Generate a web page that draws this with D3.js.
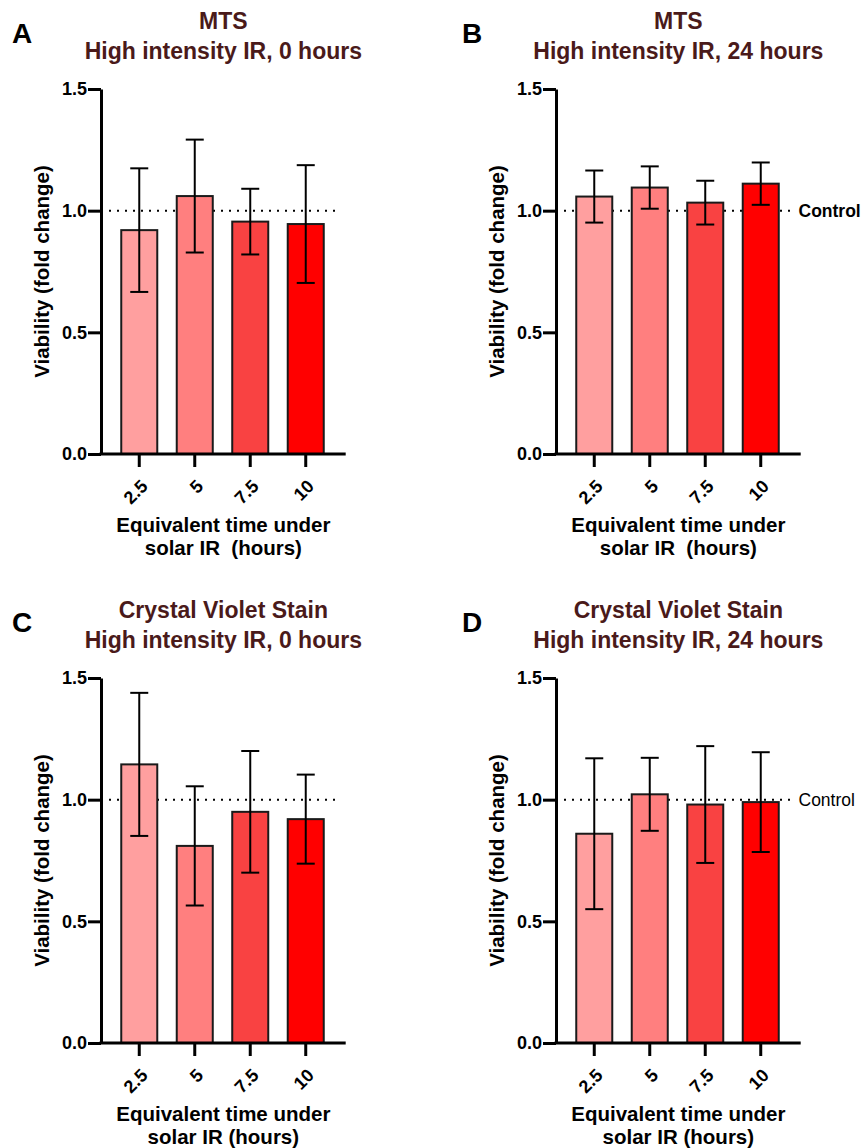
<!DOCTYPE html>
<html>
<head>
<meta charset="utf-8">
<script src="https://cdn.jsdelivr.net/npm/d3@7"></script>
<style>
  body { margin: 0; background: #fff; }
  svg { font-family: "Liberation Sans", Arial, sans-serif; }
  text { white-space: pre; }
</style>
</head>
<body>
<div id="chart"></div>
<script>
"use strict";

// x categories (equivalent hours under solar IR)
var categories = ["2.5", "5", "7.5", "10"];
var barColors = ["#ff9f9f", "#ff7f7f", "#f94242", "#ff0000"];
var yTicks = [0, 0.5, 1.0, 1.5];

// viability means and error (SD) per panel
var meansA = [0.92, 1.06, 0.955, 0.945];
var errA   = [0.254, 0.232, 0.135, 0.242];
var meansB = [1.058, 1.095, 1.033, 1.111];
var errB   = [0.107, 0.087, 0.09, 0.087];
var meansC = [1.145, 0.81, 0.95, 0.92];
var errC   = [0.294, 0.245, 0.25, 0.183];
var meansD = [0.86, 1.022, 0.98, 0.99];
var errD   = [0.31, 0.15, 0.24, 0.205];

var letters = ["A", "B", "C", "D"];
var assays = ["MTS", "MTS", "Crystal Violet Stain", "Crystal Violet Stain"];
var conditions = ["High intensity IR, 0 hours", "High intensity IR, 24 hours",
                  "High intensity IR, 0 hours", "High intensity IR, 24 hours"];
var xTitle1 = "Equivalent time under";
var xTitle2 = ["solar IR  (hours)", "solar IR  (hours)", "solar IR (hours)", "solar IR (hours)"];
var yTitle = "Viability (fold change)";
var controlLabel = [null, "bold", null, "normal"];

var width = 864, height = 1148;

var svg = d3.select("#chart")
  .append("svg")
  .attr("width", width)
  .attr("height", height);

var titleColor = "#4a1a1a";

// panel offsets and letter positions
var offsets = [[0, 0], [455, 0], [0, 589], [455, 589]];
var letterX = [12, 462, 12, 462];

var axisX = 101, axisEnd = 345.7;
var yTop = 89, yBottom = 454;

var y = d3.scaleLinear().domain([0, 1.5]).range([yBottom, yTop]);
var x = d3.scaleBand().domain(categories)
  .range([121.25, 323.75])
  .paddingInner(0.351).paddingOuter(0);

var panels = [
  {means: meansA, err: errA},
  {means: meansB, err: errB},
  {means: meansC, err: errC},
  {means: meansD, err: errD}
];

function styleTicks(sel) {
  sel.attr("font-size", 18)
    .attr("font-weight", "bold")
    .attr("font-family", "Liberation Sans, Arial, sans-serif")
    .attr("fill", "#000");
}

panels.forEach(function(p, k) {
  var ox = offsets[k][0], oy = offsets[k][1];
  var g = svg.append("g").attr("transform", "translate(" + ox + "," + oy + ")");
  var cx = (axisX + axisEnd) / 2;

  // panel letter
  svg.append("text")
    .attr("x", letterX[k])
    .attr("y", oy + 42.5)
    .attr("font-size", 28)
    .attr("font-weight", "bold")
    .attr("fill", "#000")
    .text(letters[k]);

  // titles
  g.append("text")
    .attr("x", cx).attr("y", 28.5)
    .attr("text-anchor", "middle")
    .attr("font-size", 23)
    .attr("font-weight", "bold")
    .attr("fill", titleColor)
    .text(assays[k]);
  g.append("text")
    .attr("x", cx).attr("y", 59)
    .attr("text-anchor", "middle")
    .attr("font-size", 23)
    .attr("font-weight", "bold")
    .attr("fill", titleColor)
    .text(conditions[k]);

  // control reference line
  g.append("line")
    .attr("x1", axisX + 8).attr("x2", axisX + 239)
    .attr("y1", y(1)).attr("y2", y(1))
    .attr("stroke", "#000")
    .attr("stroke-width", 2)
    .attr("stroke-dasharray", "2,6");

  if (controlLabel[k]) {
    g.append("text")
      .attr("x", axisX + 242.5)
      .attr("y", y(1))
      .attr("dy", "0.35em")
      .attr("font-size", 17.5)
      .attr("font-weight", controlLabel[k])
      .text("Control");
  }

  var data = categories.map(function(c, i) {
    return {cat: c, mean: p.means[i], err: p.err[i], color: barColors[i]};
  });

  // bars
  g.selectAll(".bar")
    .data(data)
    .enter()
    .append("rect")
    .attr("class", "bar")
    .attr("x", function(d) { return x(d.cat); })
    .attr("width", x.bandwidth())
    .attr("y", function(d) { return y(d.mean); })
    .attr("height", function(d) { return y(0) - y(d.mean); })
    .attr("fill", function(d) { return d.color; })
    .attr("stroke", "#1a1a1a")
    .attr("stroke-width", 2);

  // error bars
  var eb = g.selectAll(".err")
    .data(data)
    .enter()
    .append("g")
    .attr("class", "err")
    .attr("stroke", "#000")
    .attr("stroke-width", 2);
  eb.append("line")
    .attr("x1", function(d) { return x(d.cat) + x.bandwidth() / 2; })
    .attr("x2", function(d) { return x(d.cat) + x.bandwidth() / 2; })
    .attr("y1", function(d) { return y(d.mean - d.err); })
    .attr("y2", function(d) { return y(d.mean + d.err); });
  [-1, 1].forEach(function(s) {
    eb.append("line")
      .attr("x1", function(d) { return x(d.cat) + x.bandwidth() / 2 - 9; })
      .attr("x2", function(d) { return x(d.cat) + x.bandwidth() / 2 + 9; })
      .attr("y1", function(d) { return y(d.mean + s * d.err); })
      .attr("y2", function(d) { return y(d.mean + s * d.err); });
  });

  // y axis
  var yAxis = g.append("g")
    .attr("transform", "translate(" + axisX + ",0)")
    .call(d3.axisLeft(y).tickValues(yTicks).tickFormat(d3.format(".1f"))
      .tickSize(13).tickSizeOuter(0).tickPadding(1));
  yAxis.select(".domain").attr("stroke-width", 3);
  yAxis.selectAll(".tick line").attr("stroke-width", 3);
  yAxis.selectAll(".tick text").call(styleTicks);

  // x axis
  var xAxis = g.append("g")
    .attr("transform", "translate(0," + yBottom + ")")
    .call(d3.axisBottom(x).tickSize(13).tickSizeOuter(0));
  xAxis.select(".domain").remove();
  xAxis.append("line")
    .attr("x1", axisX - 1.5).attr("x2", axisEnd)
    .attr("stroke", "#000")
    .attr("stroke-width", 3);
  xAxis.selectAll(".tick line").attr("stroke-width", 3);
  xAxis.selectAll(".tick text").call(styleTicks)
    .attr("text-anchor", "end")
    .attr("dy", "0.35em")
    .attr("transform", "translate(5,29) rotate(-45)")
    .attr("y", 0).attr("x", 0);

  // axis titles
  g.append("text")
    .attr("x", cx).attr("y", 531.5)
    .attr("text-anchor", "middle")
    .attr("font-size", 20.5)
    .attr("font-weight", "bold")
    .text(xTitle1);
  g.append("text")
    .attr("x", cx).attr("y", 555)
    .attr("text-anchor", "middle")
    .attr("font-size", 20.5)
    .attr("font-weight", "bold")
    .text(xTitle2[k]);

  g.append("text")
    .attr("transform", "translate(" + (axisX - 52) + "," + ((yTop + yBottom) / 2) + ") rotate(-90)")
    .attr("text-anchor", "middle")
    .attr("font-size", 20.5)
    .attr("font-weight", "bold")
    .text(yTitle);
});
</script>
</body>
</html>
